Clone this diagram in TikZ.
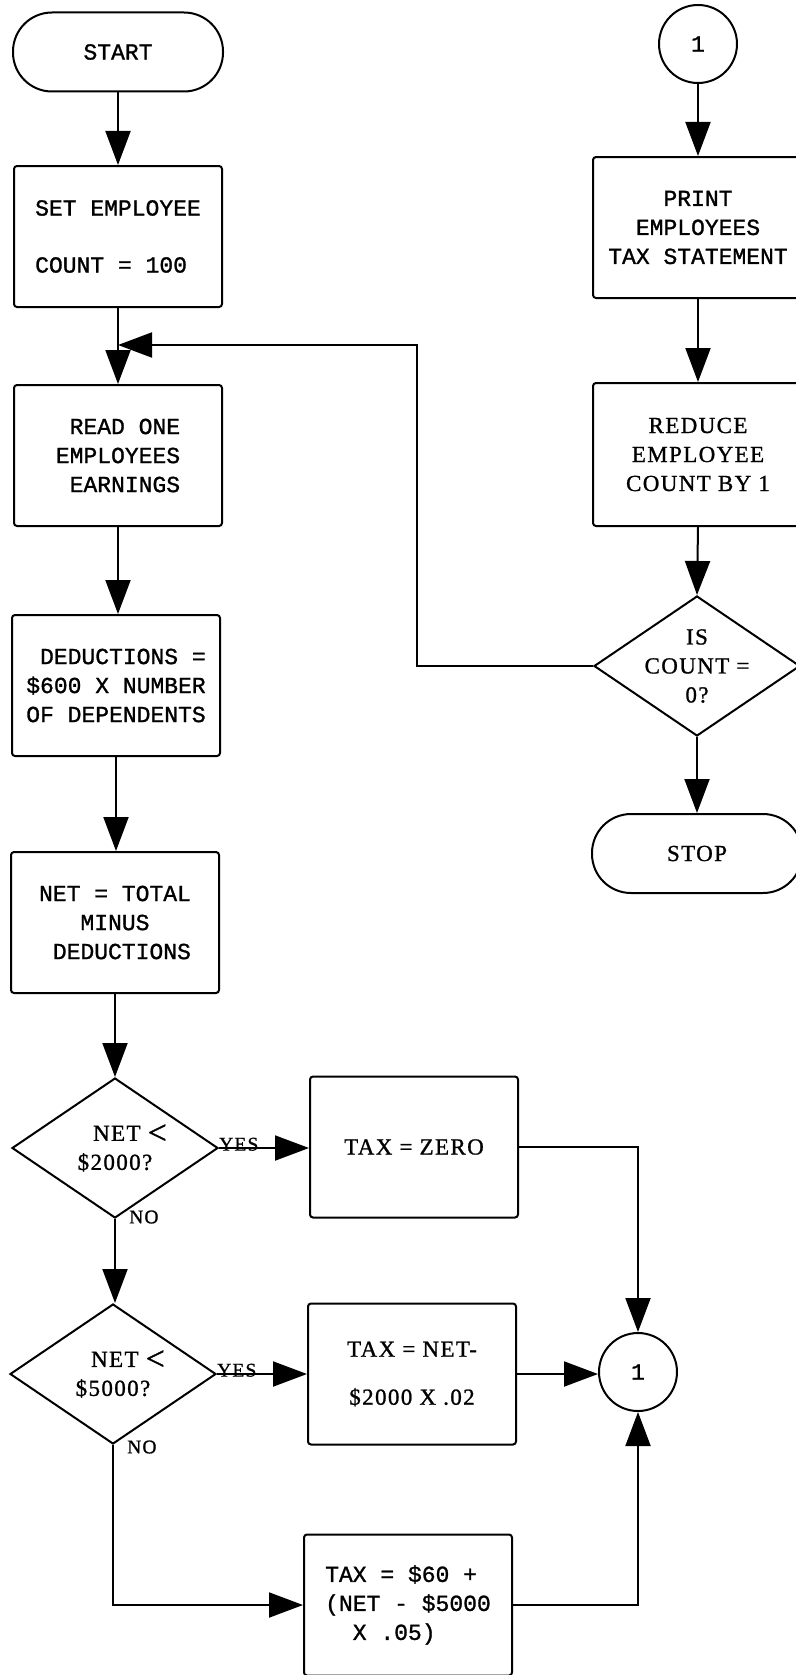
\documentclass[tikz,border=0pt]{standalone}
\usepackage{fontspec}
\newfontfamily\monof[FakeBold=1.2]{Liberation Mono}
\newfontfamily\seriff[LetterSpace=6,FakeBold=1]{Liberation Serif}
\usetikzlibrary{arrows.meta,shapes.geometric}
\newcommand\tmono{\monof\fontsize{23}{29}\selectfont}
\newcommand\tser{\seriff\fontsize{23}{29}\selectfont}
\newcommand\tlab{\seriff\fontsize{19.5}{22}\selectfont}
\newcommand\bigless{\raisebox{-3pt}{\fontsize{34}{29}\selectfont<}}
\tikzset{
  ln/.style={line width=2pt},
  arr/.style={ln, -{Triangle[length=34pt,width=25pt]}},
  box/.style={draw, ln, rounded corners=3pt, minimum width=208pt, minimum height=141pt, inner sep=0pt, font=\tmono},
  term/.style={draw, ln, rounded corners=39pt, minimum width=210pt, minimum height=79pt, inner sep=0pt},
  dia/.style={draw, ln, diamond, minimum width=206pt, minimum height=140pt, inner sep=0pt},
  conn/.style={draw, ln, circle, minimum size=78pt, inner sep=0pt, font=\tmono},
  lab/.style={inner sep=0pt, font=\tlab},
}
\begin{document}
\begin{tikzpicture}[x=1pt,y=-1pt]
\useasboundingbox (0,0) rectangle (795,1675);
% left column
\node[term, font=\tmono] (start) at (118,52) {START};
\node[box, align=left] (set) at (118,236.5) {SET EMPLOYEE\\[28pt]COUNT = 100};
\node[box, align=right] (read) at (118,455.5) {READ ONE\\EMPLOYEES\\EARNINGS};
\node[box, align=left] (ded) at (116,685.5) {\ DEDUCTIONS =\\\$600 X NUMBER\\OF DEPENDENTS};
\node[box, align=left] (net) at (115,922.5) {NET = TOTAL\\\hspace*{41.4pt}MINUS\\\hspace*{13.8pt}DEDUCTIONS};
\node[dia, label={[font=\tser, align=center]center:{\hspace*{30pt}NET\ \bigless\\\$2000?}}] (d1) at (115,1148) {};
\node[dia, label={[font=\tser, align=center]center:{\hspace*{30pt}NET\ \bigless\\\$5000?}}] (d2) at (113,1374) {};
% middle column
\node[box, font=\tser] (zero) at (414,1147) {TAX = ZERO};
\node[box, font=\tser, align=center] (netbox) at (412,1374) {TAX = NET-\\[19pt]\$2000 X .02};
\node[box, align=left] (box3) at (408,1605) {TAX = \$60 +\\(NET - \$5000\\\hspace*{27.6pt}X .05)};
\node[conn] (c2) at (638,1372) {1};
% right column
\node[conn] (c1) at (698,44) {1};
\node[box, align=center, minimum width=210pt] (print) at (698,227.5) {PRINT\\EMPLOYEES\\TAX STATEMENT};
\node[box, font=\tser, align=center, minimum width=210pt, minimum height=143pt] (reduce) at (698,454.5) {REDUCE\\EMPLOYEE\\COUNT BY 1};
\node[dia, label={[font=\tser, align=center]center:{IS\\COUNT =\\0?}}] (d3) at (697,666) {};
\node[term, font=\tser] (stop) at (697,853.5) {STOP};
% labels
\node[lab, anchor=south west, yshift=-3pt] (yes1) at (d1.east) {YES};
\node[lab, anchor=south west, yshift=-3pt] (yes2) at (d2.east) {YES};
\node[lab, anchor=west, xshift=14pt, yshift=2pt] (no1) at (d1.south) {NO};
\node[lab, anchor=west, xshift=14pt, yshift=-2pt] (no2) at (d2.south) {NO};
% connectors
\coordinate (jn) at (read.north |- 0,345);
\coordinate (lp) at (417,345);
\draw[arr] (start) -- (start.south |- set.north);
\draw[arr] (set) -- (read);
\draw[arr] (read) -- (ded.north -| read.south);
\draw[arr] (ded.south) -- (ded.south |- net.north);
\draw[arr] (net.south) -- (d1.north);
\draw[arr] (d1.east) -- (d1.east -| zero.west);
\draw[arr] (d1.south) -- (d1.south |- d2.north);
\draw[arr] (d2.east) -- (d2.east -| netbox.west);
\draw[arr] (d2.south) |- (box3.west);
\draw[arr] (zero.east) -| (c2.north);
\draw[arr] (netbox.east) -- (netbox.east -| c2.west);
\draw[arr] (box3.east) -| (c2.south);
\draw[arr] (c1.south) -- (c1.south |- print.north);
\draw[arr] (print.south) -- (print.south |- reduce.north);
\draw[arr] (reduce.south) -- (d3.north);
\draw[arr] (d3.south) -- (d3.south |- stop.north);
\draw[arr] (d3.west) -| (lp) -- (jn);
\end{tikzpicture}
\end{document}
